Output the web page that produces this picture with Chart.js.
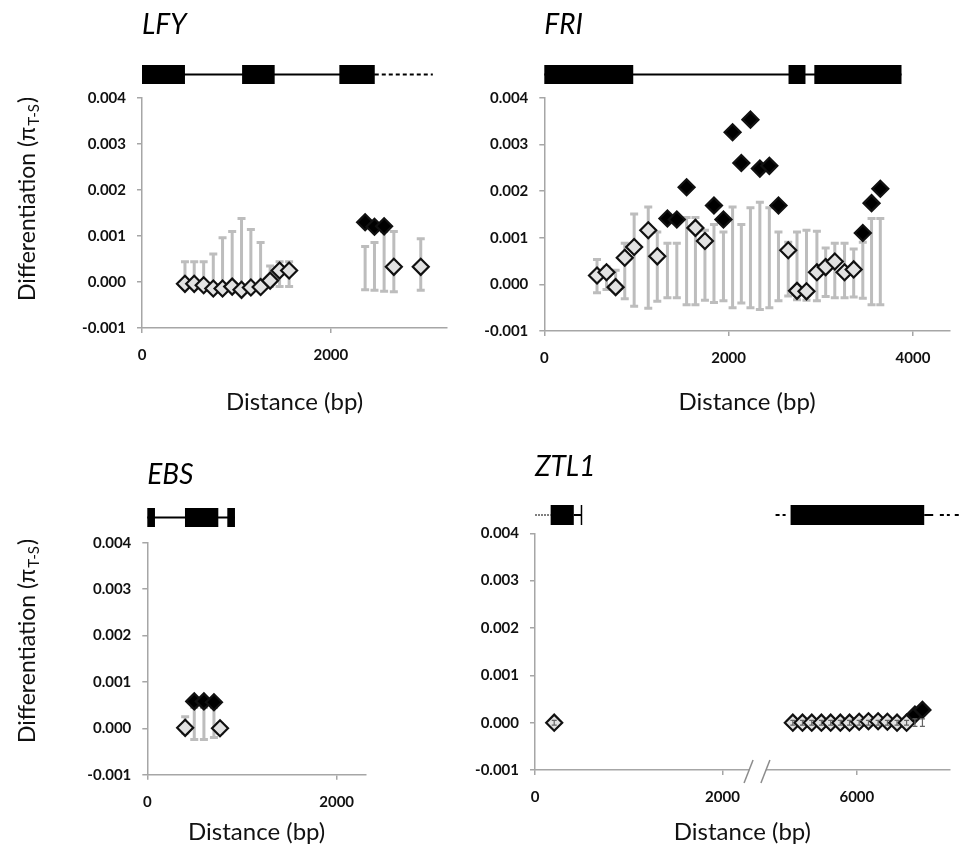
<!DOCTYPE html>
<html>
<head>
<meta charset="utf-8">
<script src="https://cdn.jsdelivr.net/npm/chart.js@4.4.1/dist/chart.umd.min.js"></script>
<style>
  html, body { margin: 0; padding: 0; background: #fff; }
  #wrap { position: relative; width: 960px; height: 853px; overflow: hidden; }
  canvas { position: absolute; }
</style>
</head>
<body>
<div id="wrap">
  <canvas id="cLFY" width="480" height="430" style="left:0;top:0"></canvas>
  <canvas id="cFRI" width="480" height="430" style="left:480px;top:0"></canvas>
  <canvas id="cEBS" width="460" height="423" style="left:0;top:430px"></canvas>
  <canvas id="cZTL" width="500" height="423" style="left:460px;top:430px"></canvas>
</div>
<script>
// ---------- data (bp positions, differentiation, null range low/high, significant flag) ----------
const yTicks = [-0.001, 0, 0.001, 0.002, 0.003, 0.004];

const lfyPos  = [455, 553, 653, 755, 853, 955, 1054, 1153, 1256, 1357, 1457, 1558, 2363, 2462, 2564, 2667, 2952];
const lfyDiff = [-0.00004, -0.00004, -0.00007, -0.00014, -0.00014, -0.0001, -0.00017, -0.00012, -0.00011, 0.00003, 0.00025, 0.00025, 0.0013, 0.0012, 0.00121, 0.00033, 0.00033];
const lfyLow  = [-0.0001, -0.0001, -0.0001, -0.00015, -0.00015, -0.00015, -0.0002, -0.00015, -0.00015, -0.0001, -0.0001, -0.0001, -0.00017, -0.00018, -0.0002, -0.00021, -0.00018];
const lfyHigh = [0.00044, 0.00044, 0.00044, 0.00061, 0.00096, 0.0011, 0.00138, 0.00114, 0.00086, 0.00035, 0.00044, 0.00044, 0.00077, 0.00086, 0.0011, 0.0011, 0.00094];
const lfySig  = [0, 0, 0, 0, 0, 0, 0, 0, 0, 0, 0, 0, 1, 1, 1, 0, 0];
const lfyXTicks = [0, 2000];
const lfyExons = [[0, 455], [1060, 1405], [2090, 2465]];
const lfyIntrons = [[0, 2465]];
const lfyUtr = [[2465, 3080]];

const friPos  = [572, 675, 774, 873, 975, 1128, 1226, 1336, 1438, 1544, 1640, 1743, 1841, 1944, 2043, 2138, 2237, 2339, 2442, 2541, 2647, 2742, 2845, 2958, 3053, 3152, 3258, 3357, 3456, 3551, 3646];
const friDiff = [0.00019, 0.00026, -0.00006, 0.00057, 0.0008, 0.00116, 0.0006, 0.00141, 0.00139, 0.00208, 0.00121, 0.00093, 0.00169, 0.00139, 0.00326, 0.0026, 0.00353, 0.00248, 0.00254, 0.00169, 0.00073, -0.00014, -0.00015, 0.00026, 0.00037, 0.00049, 0.00026, 0.00032, 0.0011, 0.00174, 0.00205];
const friLow  = [-0.00018, -0.00011, -0.00015, -0.00031, -0.00047, -0.00051, -0.00036, -0.00029, -0.00029, -0.00044, -0.00044, -0.00034, -0.00039, -0.00035, -0.0005, -0.0004, -0.0005, -0.00054, -0.0005, -0.00035, -0.00025, -0.00033, -0.00034, -0.00035, -0.00026, -0.00029, -0.00029, -0.00027, -0.0003, -0.00044, -0.00044];
const friHigh = [0.00053, 0.00037, 0.0003, 0.00088, 0.00151, 0.00166, 0.00112, 0.00088, 0.00088, 0.00143, 0.00143, 0.00116, 0.00128, 0.00112, 0.00166, 0.00128, 0.00164, 0.00176, 0.00164, 0.00112, 0.0009, 0.00112, 0.00116, 0.00114, 0.00078, 0.00088, 0.00088, 0.00076, 0.0009, 0.00141, 0.00141];
const friSig  = [0, 0, 0, 0, 0, 0, 0, 1, 1, 1, 0, 0, 1, 1, 1, 1, 1, 1, 1, 1, 0, 0, 0, 0, 0, 0, 0, 0, 1, 1, 1];
const friXTicks = [0, 2000, 4000];
const friExons = [[0, 965], [2650, 2834], [2930, 3876]];
const friIntrons = [[0, 3876]];

const ebsPos  = [400, 496, 598, 704, 768];
const ebsDiff = [0.00001, 0.00058, 0.00058, 0.00056, 0.0];
const ebsLow  = [-0.0001, -0.00024, -0.00024, -0.0002, -0.0001];
const ebsHigh = [0.00025, 0.00045, 0.00045, 0.00045, 0.0001];
const ebsSig  = [0, 1, 1, 1, 0];
const ebsXTicks = [0, 2000];
const ebsExons = [[0, 81], [398, 750], [845, 926]];
const ebsIntrons = [[0, 926]];

const ztlPos  = [205, 5317, 5420, 5519, 5622, 5721, 5824, 5922, 6025, 6124, 6227, 6326, 6429, 6531, 6620, 6700];
const ztlDiff = [0, 0, 0, 0, 0, 0, 0, 0, 0.00002, 0.00003, 0.00003, 0.00002, 0, 0, 0.00017, 0.00027];
const ztlLow  = [-0.00005, -0.00005, -0.00005, -0.00005, -0.00005, -0.00005, -0.00005, -0.00005, -0.00005, -0.00005, -0.00005, -0.00005, -0.00005, -0.00005, -0.00008, -0.00008];
const ztlHigh = [0.00005, 0.00005, 0.00005, 0.00005, 0.00005, 0.00005, 0.00005, 0.00005, 0.00005, 0.00005, 0.00005, 0.00005, 0.00005, 0.00005, 0.00008, 0.00008];
const ztlSig  = [0, 0, 0, 0, 0, 0, 0, 0, 0, 0, 0, 0, 0, 0, 1, 1];
const ztlXTicks = [0, 2000, 6000];
const ztlExons = [[167, 414], [5293, 6719]];
const ztlIntrons = [[414, 496], [6719, 6815]];
const ztlUtr = [[5133, 5240], [6886, 6992], [7045, 7150]];
const ztlDotted = [[0, 167]];
const ztlCaps = [496];

// ZTL1 axis is broken between ~2300 and ~5060 bp
const ZTL_CUT = 2300;
const ZTL_SHIFT = 2566;
const ztlSqueeze = v => (v > ZTL_CUT ? v - ZTL_SHIFT : v);
const noSqueeze = v => v;

// ---------- styles ----------
const FONT = 'Lato, "Open Sans", sans-serif';
const AXIS_GREY = '#a6a6a6';
const BAR_GREY = '#bdbdbd';
const OPEN_FILL = '#e2e2e2';

Chart.defaults.font.family = FONT;
Chart.defaults.color = '#111';

// error bars: grey behind the diamonds, or thin dark on top for ZTL1
function errorBarPlugin(p) {
  const draw = chart => {
    const { ctx, scales: { x, y } } = chart;
    ctx.save();
    ctx.strokeStyle = p.barsOnTop ? '#666' : BAR_GREY;
    ctx.lineWidth = p.barsOnTop ? 1.2 : 3;
    const cap = p.barsOnTop ? 2.5 : 4;
    p.pos.forEach((v, i) => {
      const px = x.getPixelForValue(p.squeeze(v));
      const y1 = y.getPixelForValue(p.hi[i]);
      const y2 = y.getPixelForValue(p.lo[i]);
      ctx.beginPath();
      ctx.moveTo(px, y1); ctx.lineTo(px, y2);
      ctx.moveTo(px - cap, y1); ctx.lineTo(px + cap, y1);
      ctx.moveTo(px - cap, y2); ctx.lineTo(px + cap, y2);
      ctx.stroke();
    });
    ctx.restore();
  };
  return {
    id: 'errorBars',
    beforeDatasetsDraw(chart) { if (!p.barsOnTop) draw(chart); },
    afterDatasetsDraw(chart) { if (p.barsOnTop) draw(chart); }
  };
}

// gene model above each panel
function genePlugin(p) {
  return {
    id: 'geneModel',
    afterDraw(chart) {
      const { ctx, scales: { x } } = chart;
      const g = p.gene;
      const px = v => x.getPixelForValue(p.squeeze(v));
      const mid = g.mid, h = g.h;
      ctx.save();
      ctx.strokeStyle = '#000';
      ctx.fillStyle = '#000';
      ctx.lineWidth = 2;
      (g.introns || []).forEach(([a, b]) => {
        ctx.beginPath(); ctx.moveTo(px(a), mid); ctx.lineTo(px(b), mid); ctx.stroke();
      });
      ctx.setLineDash([4, 3]);
      (g.utr || []).forEach(([a, b]) => {
        ctx.beginPath(); ctx.moveTo(px(a), mid); ctx.lineTo(px(b), mid); ctx.stroke();
      });
      ctx.setLineDash([2, 1]);
      ctx.lineWidth = 1;
      (g.dotted || []).forEach(([a, b]) => {
        ctx.beginPath(); ctx.moveTo(px(a), mid); ctx.lineTo(px(b), mid); ctx.stroke();
      });
      ctx.setLineDash([]);
      ctx.lineWidth = 1.5;
      (g.caps || []).forEach(a => {
        ctx.beginPath(); ctx.moveTo(px(a), mid - h / 2); ctx.lineTo(px(a), mid + h / 2); ctx.stroke();
      });
      g.exons.forEach(([a, b]) => {
        ctx.fillRect(px(a), mid - h / 2, px(b) - px(a), h);
      });
      ctx.restore();
    }
  };
}

// y title with subscript
function yTitlePlugin(p) {
  return {
    id: 'yTitle',
    afterDraw(chart) {
      if (!p.yTitle) return;
      const ctx = chart.ctx;
      const big = '23px ' + FONT, small = '15px ' + FONT;
      ctx.save();
      ctx.translate(p.yTitle.x, p.yTitle.y);
      ctx.rotate(-Math.PI / 2);
      ctx.fillStyle = '#111';
      ctx.textBaseline = 'middle';
      ctx.textAlign = 'left';
      ctx.font = big;
      const w1 = ctx.measureText('Differentiation (π').width;
      const w3 = ctx.measureText(')').width;
      ctx.font = small;
      const w2 = ctx.measureText('T-S').width;
      const x0 = -(w1 + w2 + w3) / 2;
      ctx.font = big; ctx.fillText('Differentiation (π', x0, 0);
      ctx.font = small; ctx.fillText('T-S', x0 + w1 + 1, 6);
      ctx.font = big; ctx.fillText(')', x0 + w1 + w2 + 2, 0);
      ctx.restore();
    }
  };
}

// axis break marks for ZTL1
function breakPlugin(p) {
  return {
    id: 'axisBreak',
    afterDraw(chart) {
      if (!p.breakAt) return;
      const { ctx, scales: { x }, chartArea } = chart;
      const ay = chartArea.bottom;
      const xa = x.getPixelForValue(p.breakAt[0]);
      const xb = x.getPixelForValue(p.breakAt[1]);
      ctx.save();
      ctx.fillStyle = '#fff';
      ctx.fillRect(xa, ay - 3, xb - xa, 6);
      ctx.strokeStyle = '#8c8c8c';
      ctx.lineWidth = 1.5;
      [xa, xb].forEach(bx => {
        ctx.beginPath(); ctx.moveTo(bx - 5, ay + 13); ctx.lineTo(bx + 4, ay - 10); ctx.stroke();
      });
      ctx.restore();
    }
  };
}

const panels = [
  { canvas: 'cLFY', title: 'LFY', pos: lfyPos, diff: lfyDiff, lo: lfyLow, hi: lfyHigh, sig: lfySig, xTicks: lfyXTicks,
    squeeze: noSqueeze, xMax: 3230, area: { l: 142, r: 447, t: 98, b: 328 }, titleBase: 33, xTitleOff: 28,
    gene: { exons: lfyExons, introns: lfyIntrons, utr: lfyUtr, mid: 74.5, h: 19 }, yTitle: { x: 28, y: 200 } },
  { canvas: 'cFRI', title: 'FRI', pos: friPos, diff: friDiff, lo: friLow, hi: friHigh, sig: friSig, xTicks: friXTicks,
    squeeze: noSqueeze, xMax: 4400, area: { l: 64.3, r: 479, t: 97.7, b: 331 }, titleBase: 33, xTitleOff: 28,
    gene: { exons: friExons, introns: friIntrons, mid: 74.5, h: 19 } },
  { canvas: 'cEBS', title: 'EBS', pos: ebsPos, diff: ebsDiff, lo: ebsLow, hi: ebsHigh, sig: ebsSig, xTicks: ebsXTicks,
    squeeze: noSqueeze, xMax: 2310, area: { l: 147.3, r: 366, t: 112.7, b: 344.7 }, titleBase: 53, xTitleOff: 21,
    gene: { exons: ebsExons, introns: ebsIntrons, mid: 87.5, h: 19 }, yTitle: { x: 28, y: 212 } },
  { canvas: 'cZTL', title: 'ZTL1', pos: ztlPos, diff: ztlDiff, lo: ztlLow, hi: ztlHigh, sig: ztlSig, xTicks: ztlXTicks,
    squeeze: ztlSqueeze, xMax: 4426, area: { l: 75, r: 491.7, t: 103.3, b: 340 }, titleBase: 45, xTitleOff: 21,
    gene: { exons: ztlExons, introns: ztlIntrons, utr: ztlUtr, dotted: ztlDotted, caps: ztlCaps, mid: 85, h: 20 },
    breakAt: [2284, 2464], barsOnTop: true }
];

panels.forEach(p => {
  const el = document.getElementById(p.canvas);
  const W = el.width, H = el.height;
  const titleLine = 28 * 1.2;
  const titleTop = p.titleBase - 8.4 - titleLine / 2;
  const titleBottom = p.area.t - titleLine - titleTop;

  new Chart(el, {
    type: 'scatter',
    data: {
      datasets: [{
        data: p.pos.map((v, i) => ({ x: p.squeeze(v), y: p.diff[i] })),
        pointStyle: 'rectRot',
        pointRadius: 8,
        pointBorderWidth: 2.2,
        pointBorderColor: '#111',
        pointBackgroundColor: p.sig.map(s => (s ? '#000' : OPEN_FILL)),
        showLine: false,
        clip: false
      }]
    },
    options: {
      responsive: false,
      animation: false,
      events: [],
      layout: { padding: { left: 0, right: W - p.area.r, top: 0, bottom: 0 } },
      plugins: {
        legend: { display: false },
        tooltip: { enabled: false },
        title: {
          display: true, text: p.title, align: 'start', fullSize: false,
          font: { size: 28, style: 'italic', weight: 'normal' }, color: '#000',
          padding: { top: titleTop, bottom: titleBottom }
        }
      },
      scales: {
        x: {
          type: 'linear', min: 0, max: p.xMax,
          border: { color: AXIS_GREY, width: 1.5 },
          grid: { drawOnChartArea: false, color: AXIS_GREY, tickLength: 5, lineWidth: 1.5 },
          ticks: {
            maxRotation: 0, padding: 13,
            font: { size: 15, weight: 'bold' }, color: '#111',
            callback: (v, i) => String(p.xTicks[i])
          },
          afterBuildTicks: s => { s.ticks = p.xTicks.map(v => ({ value: p.squeeze(v) })); },
          afterFit: s => { s.height = H - p.area.b; },
          title: {
            display: true, text: 'Distance (bp)', color: '#111',
            font: { size: 24 }, padding: { top: 0, bottom: p.xTitleOff - 14.4 }
          }
        },
        y: {
          min: -0.001, max: 0.004,
          border: { color: AXIS_GREY, width: 1.5 },
          grid: { drawOnChartArea: false, color: AXIS_GREY, tickLength: 5, lineWidth: 1.5 },
          ticks: {
            padding: 11,
            font: { size: 15, weight: 'bold' }, color: '#111',
            callback: v => Number(v).toFixed(3)
          },
          afterBuildTicks: s => { s.ticks = yTicks.map(v => ({ value: v })); },
          afterFit: s => { s.width = p.area.l; }
        }
      }
    },
    plugins: [errorBarPlugin(p), genePlugin(p), yTitlePlugin(p), breakPlugin(p)]
  });
});
</script>
</body>
</html>
